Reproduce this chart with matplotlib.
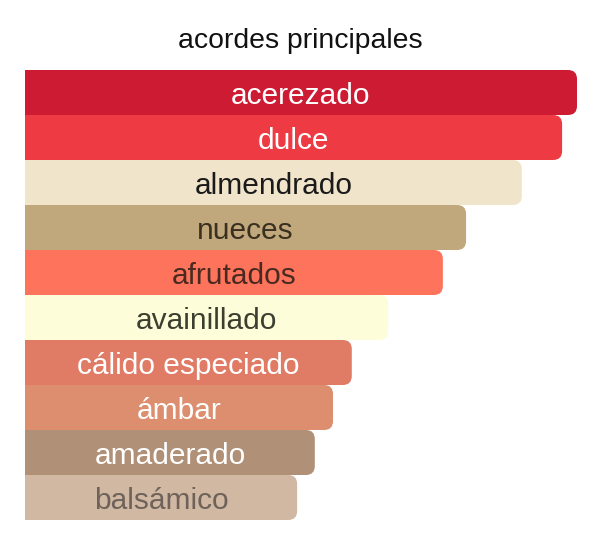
import matplotlib
matplotlib.use("Agg")
import matplotlib.pyplot as plt
from matplotlib.patches import FancyBboxPatch, Rectangle

labels = ["acerezado", "dulce", "almendrado", "nueces", "afrutados",
          "avainillado", "cálido especiado", "ámbar", "amaderado", "balsámico"]
values = [100, 97.3, 90.0, 79.9, 75.7, 65.8, 59.2, 55.8, 52.5, 49.3]
bar_colors = ["#CD1B34", "#EE3A43", "#F0E4CB", "#C0A77C", "#FE735B",
              "#FEFDDA", "#E07B65", "#DC8E6F", "#B09077", "#D1B8A2"]
text_colors = ["#FFFFFF", "#FFFFFF", "#1A1A1A", "#3A3020", "#4A2A20",
               "#3C3F30", "#FFFFFF", "#FFFFFF", "#FFFFFF", "#6E625A"]
title = "acordes principales"

plt.rcParams['font.family'] = ['Liberation Sans', 'DejaVu Sans']

W, H = 600, 549
fig = plt.figure(figsize=(W / 100, H / 100), dpi=100)
left_px, right_px, top_px, bot_px = 25, 577, 70, 520
ax = fig.add_axes([left_px / W, (H - bot_px) / H,
                   (right_px - left_px) / W, (bot_px - top_px) / H])
ax.set_xlim(0, 100)
ax.set_ylim(len(labels) - 0.5, -0.5)
ax.axis("off")

px_x = (right_px - left_px) / 100.0
px_y = (bot_px - top_px) / len(labels)
r_px = 9
rx = r_px / px_x
aspect = px_x / px_y

for i, (lab, v, c, tc) in enumerate(zip(labels, values, bar_colors, text_colors)):
    y0 = i - 0.5
    h = 1.0
    p = FancyBboxPatch((0, y0), v, h,
                       boxstyle=f"round,pad=0,rounding_size={rx}",
                       mutation_aspect=aspect, facecolor=c, edgecolor="none",
                       zorder=2 + i)
    ax.add_patch(p)
    ax.add_patch(Rectangle((0, y0), v / 2, h, facecolor=c, edgecolor="none",
                           zorder=2 + i))
    ax.text(v / 2, i + 0.07, lab, ha="center", va="center", color=tc,
            fontsize=21.5, zorder=20)

fig.text(0.5, 1 - 41 / H, title, ha="center", va="center", fontsize=20.4,
         color="#111111")

fig.savefig("out.png", dpi=100, facecolor="white")
